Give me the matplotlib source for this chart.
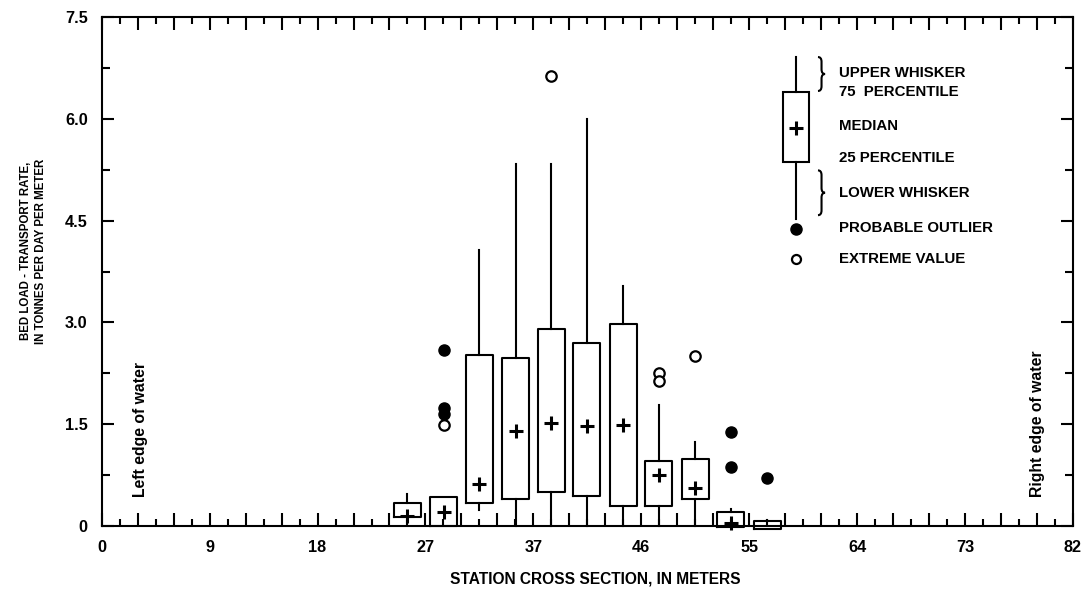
import numpy as np
import matplotlib
matplotlib.use("Agg")
import matplotlib.pyplot as plt
from matplotlib.patches import Rectangle, PathPatch
from matplotlib.path import Path
from matplotlib.ticker import FixedLocator, FixedFormatter

plt.rcParams['font.family'] = ['Liberation Sans', 'DejaVu Sans']
plt.rcParams['font.weight'] = 'bold'

FT = 0.3048  # station axis is laid out in feet, labelled in meters

# --- data ---
stations = [25.9, 29.0, 32.0, 35.1, 38.1, 41.1, 44.2, 47.2, 50.3, 53.3, 56.4]
q1 = [0.13, 0.0, 0.335, 0.40, 0.50, 0.44, 0.30, 0.30, 0.40, -0.02, -0.04]
q3 = [0.335, 0.42, 2.52, 2.475, 2.91, 2.69, 2.98, 0.96, 0.99, 0.21, 0.074]
medians = [0.152, 0.21, 0.615, 1.40, 1.52, 1.48, 1.49, 0.753, 0.556, 0.05, np.nan]
whisker_lo = [0.13, 0.0, 0.236, 0.0, 0.0, 0.0, 0.0, 0.0, 0.0, -0.02, -0.04]
whisker_hi = [0.47, 0.42, 4.065, 5.33, 5.33, 6.0, 3.54, 1.79, 1.245, 0.25, 0.09]

outlier_station = [29.0, 29.0, 29.0, 53.3, 53.3, 56.4]
outlier_value = [2.60, 1.74, 1.65, 1.39, 0.87, 0.71]
extreme_station = [29.0, 38.1, 47.2, 47.2, 50.3]
extreme_value = [1.49, 6.63, 2.26, 2.13, 2.51]

x_tick_labels = ['0', '9', '18', '27', '37', '46', '55', '64', '73', '82']
y_ticks = [0, 1.5, 3.0, 4.5, 6.0, 7.5]
y_tick_labels = ['0', '1.5', '3.0', '4.5', '6.0', '7.5']

legend_labels = ['UPPER WHISKER', '75  PERCENTILE', 'MEDIAN', '25 PERCENTILE',
                 'LOWER WHISKER', 'PROBABLE OUTLIER', 'EXTREME VALUE']


def brace(ax, x, y0, y1, w, q):
    # right-facing curly brace "}" from y0 (bottom) to y1 (top)
    xm = x + w / 2
    ym = (y0 + y1) / 2
    verts = [(x, y1), (xm, y1), (xm, y1 - q), (xm, ym + q), (xm, ym), (x + w, ym),
             (xm, ym), (xm, ym - q), (xm, y0 + q), (xm, y0), (x, y0)]
    codes = [Path.MOVETO, Path.CURVE3, Path.CURVE3, Path.LINETO, Path.CURVE3, Path.CURVE3,
             Path.CURVE3, Path.CURVE3, Path.LINETO, Path.CURVE3, Path.CURVE3]
    ax.add_patch(PathPatch(Path(verts, codes), fill=False, lw=1.5, color='black'))


fig = plt.figure(figsize=(10.81, 5.89), dpi=100)
ax = fig.add_axes([101.7 / 1081, 63 / 589, 971.3 / 1081, 509 / 589])

stats = []
for m, a, b, lo, hi in zip(medians, q1, q3, whisker_lo, whisker_hi):
    stats.append(dict(med=m, q1=a, q3=b, whislo=lo, whishi=hi, fliers=[]))

lw = 1.5
arts = ax.bxp(stats, positions=stations, widths=2.29, showcaps=False, showfliers=False,
              boxprops=dict(lw=lw, color='black'), whiskerprops=dict(lw=lw, color='black'),
              medianprops=dict(visible=False), manage_ticks=False)
for key in arts:
    for a in arts[key]:
        a.set_clip_on(False)

ax.plot(stations, medians, '+', ms=10, mew=2.2, color='black', clip_on=False)
ax.plot(outlier_station, outlier_value, 'o', ms=8, color='black', clip_on=False)
ax.plot(extreme_station, extreme_value, 'o', ms=7.5, mfc='white', mec='black', mew=1.6,
        clip_on=False)

# legend schematic
lx = 58.83
ax.add_patch(Rectangle((lx - 1.13, 5.36), 2.26, 1.04, fill=False, lw=lw, color='black'))
ax.plot([lx, lx], [6.40, 6.91], color='black', lw=lw)
ax.plot([lx, lx], [4.52, 5.36], color='black', lw=lw)
ax.plot(lx, 5.86, '+', ms=10, mew=2.2, color='black')
ax.plot(lx, 4.38, 'o', ms=8, color='black')
ax.plot(lx, 3.93, 'o', ms=6.5, mfc='white', mec='black', mew=1.6)
brace(ax, 60.69, 6.41, 6.91, 0.6, 0.07)
brace(ax, 60.69, 4.58, 5.24, 0.6, 0.07)
for lab, yy in zip(legend_labels, [6.68, 6.39, 5.90, 5.42, 4.90, 4.39, 3.93]):
    ax.text(62.5, yy, lab, fontsize=10.8, fontweight='bold', ha='left', va='center')

ax.text(3.3, 0.43, 'Left edge of water', rotation=90, fontsize=11.3, fontweight='bold',
        ha='center', va='bottom')
ax.text(79.3, 0.43, 'Right edge of water', rotation=90, fontsize=11.3, fontweight='bold',
        ha='center', va='bottom')

ax.set_xlim(0, 270 * FT)
ax.set_ylim(0, 7.5)

major_x = np.arange(0, 271, 10) * FT
ax.xaxis.set_major_locator(FixedLocator(major_x))
ax.xaxis.set_major_formatter(FixedFormatter(
    [x_tick_labels[i // 3] if i % 3 == 0 else '' for i in range(len(major_x))]))
ax.xaxis.set_minor_locator(FixedLocator(np.arange(5, 270, 10) * FT))
ax.yaxis.set_major_locator(FixedLocator(y_ticks))
ax.yaxis.set_major_formatter(FixedFormatter(y_tick_labels))
ax.yaxis.set_minor_locator(FixedLocator(np.arange(0.75, 7.5, 1.5)))

ax.tick_params(axis='both', which='both', direction='in', width=1.5, top=True, right=True,
               labelsize=11.7, pad=10)
ax.tick_params(axis='x', which='major', length=9.5)
ax.tick_params(axis='x', which='minor', length=5)
ax.tick_params(axis='y', which='major', length=8.5)
ax.tick_params(axis='y', which='minor', length=5.5)
for s in ax.spines.values():
    s.set_linewidth(1.5)

ax.set_xlabel('STATION CROSS SECTION, IN METERS', fontsize=11.2, fontweight='bold',
              labelpad=12)
ax.xaxis.label.set_x(0.508)
ax.text(-0.0705, 0.54, 'BED LOAD - TRANSPORT RATE,\nIN TONNES PER DAY PER METER',
        transform=ax.transAxes, rotation=90, fontsize=8.3, fontweight='bold',
        ha='center', va='center', multialignment='center', linespacing=1.3)

fig.savefig('out.png', dpi=100)
